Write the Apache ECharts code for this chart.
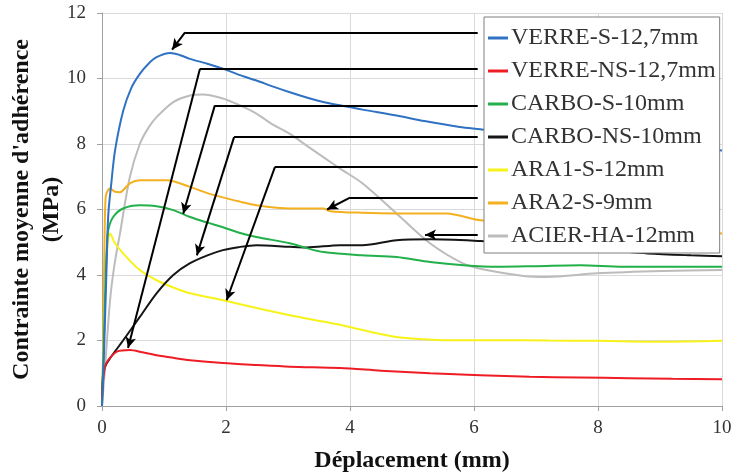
<!DOCTYPE html>
<html>
<head>
<meta charset="utf-8">
<script src="https://cdn.jsdelivr.net/npm/echarts@6/dist/echarts.min.js"></script>
<style>
html,body{margin:0;padding:0;background:#fff;}
#chart{width:732px;height:474px;}
</style>
</head>
<body>
<div id="chart"></div>
<script>
// ---- Data (x: Déplacement mm, y: Contrainte MPa) ----
const seriesNames = ['VERRE-S-12,7mm','VERRE-NS-12,7mm','CARBO-S-10mm','CARBO-NS-10mm','ARA1-S-12mm','ARA2-S-9mm','ACIER-HA-12mm'];

const verreS = [[0,0],[0.03,1.5],[0.07,4],[0.1,5.8],[0.15,6.8],[0.21,7.8],[0.34,9.0],[0.47,9.7],[0.61,10.14],[0.75,10.45],[0.88,10.65],[1.1,10.78],[1.25,10.72],[1.42,10.6],[1.7,10.45],[1.95,10.3],[2.2,10.12],[2.49,9.94],[2.75,9.76],[3.03,9.58],[3.3,9.42],[3.57,9.28],[3.84,9.18],[4.2,9.05],[4.75,8.87],[5.2,8.7],[5.77,8.52],[6.1,8.45],[7,8.25],[8,8.1],[9,7.95],[10,7.8]];
const verreNS = [[0,0.2],[0.02,0.8],[0.05,1.2],[0.1,1.4],[0.24,1.66],[0.45,1.71],[0.65,1.64],[0.88,1.55],[1.15,1.47],[1.42,1.4],[1.95,1.31],[2.5,1.25],[3.03,1.2],[3.84,1.16],[4.5,1.08],[5.29,1.0],[6.1,0.94],[6.9,0.89],[7.7,0.87],[8.5,0.85],[9.2,0.83],[10,0.82]];
const carboS = [[0,0],[0.03,2],[0.06,4],[0.08,4.9],[0.1,5.37],[0.18,5.77],[0.34,6.03],[0.61,6.13],[0.88,6.1],[1.15,5.98],[1.42,5.77],[1.7,5.6],[1.95,5.46],[2.2,5.3],[2.49,5.16],[3.03,4.97],[3.3,4.82],[3.57,4.7],[4.2,4.6],[4.75,4.55],[5.29,4.4],[5.83,4.3],[6.37,4.25],[7,4.27],[7.71,4.3],[8.4,4.25],[9.05,4.25],[10,4.25]];
const carboNS = [[0,0.3],[0.02,1.0],[0.06,1.25],[0.13,1.46],[0.34,2.0],[0.61,2.72],[0.88,3.44],[1.15,4.0],[1.42,4.36],[1.7,4.6],[1.95,4.76],[2.2,4.85],[2.49,4.91],[3.03,4.86],[3.3,4.84],[3.84,4.91],[4.2,4.91],[4.75,5.06],[5.29,5.09],[6.1,5.04],[7,4.95],[8,4.78],[8.8,4.66],[9.5,4.6],[10,4.57]];
const ara1S = [[0,0],[0.03,2],[0.06,4],[0.1,5.1],[0.13,5.27],[0.2,5.0],[0.34,4.66],[0.61,4.15],[0.88,3.84],[1.15,3.62],[1.42,3.44],[1.95,3.23],[2.49,2.99],[3.03,2.77],[3.57,2.58],[3.84,2.48],[4.2,2.32],[4.75,2.11],[5.2,2.04],[5.56,2.01],[6.37,2.01],[7.2,2.0],[7.98,1.99],[9.05,1.96],[10,1.99]];
const ara2S = [[0,0],[0.02,2],[0.04,5],[0.06,6.4],[0.1,6.6],[0.13,6.64],[0.2,6.55],[0.29,6.53],[0.45,6.8],[0.61,6.89],[1.04,6.89],[1.42,6.69],[1.7,6.5],[1.95,6.37],[2.2,6.25],[2.49,6.13],[3.03,6.03],[3.57,6.03],[3.68,5.95],[4.2,5.9],[4.75,5.88],[5.56,5.88],[6.1,5.67],[7,5.6],[8,5.5],[9,5.4],[10,5.27]];
const acierHA = [[0,0],[0.05,1.2],[0.13,3.23],[0.2,4.3],[0.29,5.27],[0.45,7.0],[0.61,8.0],[0.75,8.5],[0.88,8.82],[1.15,9.28],[1.42,9.48],[1.63,9.51],[1.95,9.39],[2.2,9.2],[2.49,8.93],[2.75,8.6],[3.03,8.31],[3.3,7.95],[3.57,7.6],[3.84,7.25],[4.2,6.8],[4.75,5.88],[5.29,4.97],[5.83,4.35],[6.2,4.15],[6.8,3.97],[7.17,3.94],[7.98,4.05],[9.05,4.12],[10,4.15]];

const xTicks = [0,2,4,6,8,10];
const yTicks = [0,2,4,6,8,10,12];

// Annotation arrows (polylines in data coordinates, last point = arrow tip)
const arrows = [
  [[6.06,11.41],[1.34,11.41],[1.13,10.88]],
  [[6.06,10.3],[1.58,10.3],[0.42,1.77]],
  [[6.06,9.18],[1.82,9.18],[1.31,5.87]],
  [[6.06,8.21],[2.13,8.21],[1.53,4.6]],
  [[6.06,7.3],[2.79,7.3],[2.01,3.23]],
  [[6.06,6.36],[4.0,6.36],[3.63,6.0]],
  [[6.06,5.23],[5.21,5.23]]
];

const colors = ['#2f72c4','#ee1c24','#22b04a','#151515','#f7f31a','#f4b01e','#bcbcbc'];
const dataSets = [verreS, verreNS, carboS, carboNS, ara1S, ara2S, acierHA];

const markLineData = [];
arrows.forEach(poly => {
  for (let i = 0; i < poly.length - 1; i++) {
    const last = i === poly.length - 2;
    markLineData.push([
      {coord: poly[i], symbol: 'none'},
      {coord: poly[i+1], symbol: last ? 'arrow' : 'none', symbolSize: last ? [8, 11] : 0}
    ]);
  }
});

const serif = '"Liberation Serif", "Times New Roman", serif';

const series = seriesNames.map((n, i) => ({
  name: n,
  type: 'line',
  data: dataSets[i],
  symbol: 'none',
  smooth: 0.3,
  lineStyle: {width: 2, color: colors[i]},
  itemStyle: {color: colors[i]},
  z: 2 + (7 - i) * 0.01,
  animation: false
}));
series.push({
  name: '__arrows',
  type: 'line',
  data: [],
  symbol: 'none',
  z: 5,
  animation: false,
  markLine: {
    silent: true,
    animation: false,
    symbol: ['none','arrow'],
    label: {show: false},
    lineStyle: {color: '#000', width: 2, type: 'solid'},
    emphasis: {disabled: true},
    data: markLineData
  }
});

const chart = echarts.init(document.getElementById('chart'), null, {renderer: 'canvas'});
chart.setOption({
  animation: false,
  backgroundColor: '#fff',
  color: colors,
  grid: {left: 102, right: 10, top: 13, bottom: 68, containLabel: false, outerBoundsMode: 'none'},
  legend: {
    data: seriesNames,
    orient: 'vertical',
    left: 484,
    top: 17,
    backgroundColor: '#fff',
    borderColor: '#7f7f7f',
    borderWidth: 1,
    padding: [9, 4, 5, 4],
    itemGap: 9,
    itemWidth: 20,
    itemHeight: 3,
    icon: 'rect',
    textStyle: {fontFamily: serif, fontSize: 24, color: '#333', lineHeight: 23, padding: [0,0,0,-2]},
    z: 10
  },
  xAxis: {
    type: 'value',
    min: 0, max: 10, interval: 2,
    name: 'Déplacement (mm)',
    nameLocation: 'middle',
    nameGap: 43,
    nameMoveOverlap: false,
    nameTextStyle: {fontFamily: serif, fontSize: 24, fontWeight: 'bold', color: '#111'},
    axisLine: {show: true, lineStyle: {color: '#a0a0a0', width: 1}},
    axisTick: {show: true, length: 5, lineStyle: {color: '#a0a0a0'}},
    axisLabel: {fontFamily: serif, fontSize: 19, color: '#333', margin: 13,
      formatter: v => xTicks.includes(v) ? String(v) : ''},
    splitLine: {show: true, lineStyle: {color: '#d9d9d9', width: 1}}
  },
  yAxis: {
    type: 'value',
    min: 0, max: 12, interval: 2,
    name: "Contrainte moyenne d'adhérence\n(MPa)",
    nameLocation: 'middle',
    nameGap: 35,
    nameMoveOverlap: false,
    nameRotate: 90,
    nameTextStyle: {fontFamily: serif, fontSize: 24, fontWeight: 'bold', color: '#111', lineHeight: 30, align: 'center'},
    axisLine: {show: true, lineStyle: {color: '#a0a0a0', width: 1}},
    axisTick: {show: true, length: 5, lineStyle: {color: '#a0a0a0'}},
    axisLabel: {fontFamily: serif, fontSize: 19, color: '#333', margin: 16,
      formatter: v => yTicks.includes(v) ? String(v) : ''},
    splitLine: {show: true, lineStyle: {color: '#d9d9d9', width: 1}}
  },
  series: series
});
</script>
</body>
</html>
